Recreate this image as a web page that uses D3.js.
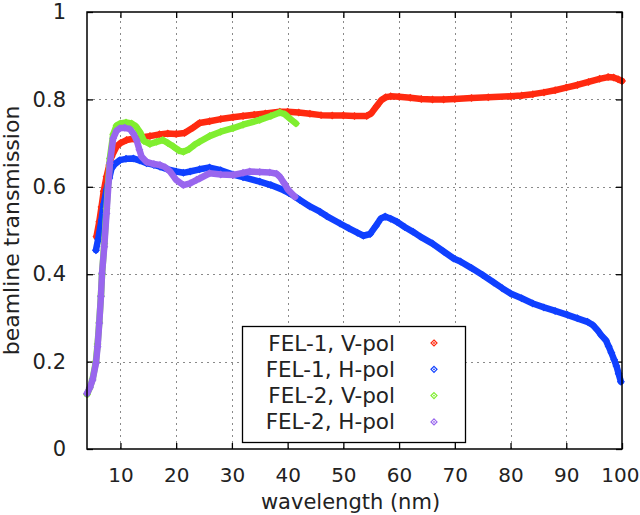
<!DOCTYPE html>
<html><head><meta charset="utf-8">
<script src="https://cdn.jsdelivr.net/npm/d3@7"></script>
<style>body{margin:0;background:#fff}svg{display:block}</style>
</head><body>
<svg id="c" width="640" height="515"></svg>
<script>
const xTicks = [10,20,30,40,50,60,70,80,90,100];
const yTicks = [0,0.2,0.4,0.6,0.8,1];
const seriesNames = ["FEL-1, V-pol","FEL-1, H-pol","FEL-2, V-pol","FEL-2, H-pol"];
const seriesColors = ["#ff2a10","#1040ff","#80ee30","#9966ee"];

const fel1V = [[5.7,0.486],[6.2,0.52],[6.6,0.554],[7.0,0.59],[7.5,0.623],[8.0,0.65],[8.4,0.669],[9.3,0.692],[10,0.70],[11.1,0.707],[12.3,0.71],[13.5,0.713],[15.3,0.716],[17,0.72],[18.5,0.722],[20,0.721],[21.5,0.723],[23,0.735],[24.2,0.746],[26,0.75],[28,0.755],[30.2,0.759],[32,0.762],[34,0.765],[36,0.768],[38.6,0.772],[40,0.772],[42,0.77],[44,0.767],[46,0.764],[48,0.763],[50,0.763],[52,0.762],[54.2,0.762],[55,0.768],[56,0.785],[56.8,0.798],[57.6,0.805],[58.5,0.807],[60,0.806],[62,0.804],[64,0.801],[66,0.80],[68,0.80],[70,0.801],[73,0.803],[76,0.805],[80,0.807],[82,0.809],[84,0.812],[86,0.816],[88,0.821],[90,0.827],[92,0.833],[94,0.84],[96,0.847],[97.5,0.851],[98.5,0.85],[99.3,0.846],[100,0.842]];

const fel1H = [[5.6,0.455],[6.0,0.48],[6.6,0.524],[7.0,0.56],[7.5,0.593],[8.0,0.62],[8.4,0.642],[9.0,0.652],[9.9,0.661],[11,0.664],[12.3,0.665],[13.5,0.66],[14.7,0.654],[16,0.65],[17.1,0.646],[18.5,0.64],[20,0.635],[21.3,0.632],[22.5,0.635],[24.2,0.640],[26,0.644],[28,0.638],[30.2,0.628],[32,0.622],[35,0.612],[37,0.604],[39.2,0.593],[41,0.58],[42.2,0.570],[44,0.555],[45.8,0.543],[47,0.533],[49.4,0.516],[51,0.505],[52.5,0.495],[53.6,0.488],[54.8,0.492],[55.8,0.51],[56.7,0.527],[57.5,0.532],[58.5,0.527],[59.6,0.520],[61,0.508],[62.5,0.497],[63.8,0.486],[66,0.47],[68,0.452],[69.8,0.436],[71,0.429],[73,0.414],[75,0.398],[77,0.381],[78.5,0.368],[80,0.356],[82,0.345],[84,0.333],[86,0.324],[88,0.316],[90.2,0.307],[92,0.299],[93.8,0.291],[94.8,0.283],[95.6,0.272],[96.3,0.26],[97.1,0.249],[97.6,0.235],[98.1,0.22],[98.6,0.204],[99,0.19],[99.4,0.172],[99.8,0.154]];

const fel2V = [[4,0.125],[4.5,0.14],[5,0.16],[5.6,0.2],[5.9,0.24],[6.2,0.29],[6.5,0.35],[6.7,0.40],[7.1,0.47],[7.5,0.55],[8.1,0.665],[8.7,0.72],[9.3,0.74],[10,0.745],[11,0.747],[12,0.745],[12.8,0.738],[13.5,0.725],[14.2,0.705],[15.3,0.698],[16.5,0.703],[17.6,0.707],[18.5,0.70],[19.5,0.692],[20.5,0.683],[21.3,0.680],[22.3,0.686],[23.3,0.696],[24.2,0.703],[26,0.716],[28,0.726],[30.2,0.734],[32,0.742],[35,0.753],[37,0.762],[38.6,0.77],[39.5,0.766],[40.5,0.755],[41.5,0.745]];

const fel2H = [[4,0.127],[4.5,0.14],[5,0.158],[5.6,0.196],[5.9,0.234],[6.2,0.288],[6.5,0.349],[6.7,0.402],[7.1,0.463],[7.5,0.539],[8.1,0.654],[8.7,0.711],[9.3,0.728],[9.9,0.734],[10.8,0.735],[11.7,0.732],[12.3,0.722],[12.9,0.707],[13.4,0.685],[13.8,0.669],[14.7,0.657],[16,0.652],[17.1,0.650],[18,0.645],[18.9,0.635],[20,0.616],[21.3,0.604],[22.5,0.608],[23.7,0.616],[24.2,0.619],[26,0.631],[28,0.628],[30.2,0.627],[32,0.632],[33.2,0.635],[35,0.634],[36.8,0.633],[38,0.630],[38.6,0.623],[39.4,0.608],[40.1,0.593],[41.3,0.577]];

const allSeries = [fel1V, fel1H, fel2V, fel2H];

const svg = d3.select("#c");
const L = 87, R = 622, T = 12, B = 449;
const x = d3.scaleLinear().domain([4,100]).range([L,R]);
const y = d3.scaleLinear().domain([0,1]).range([B,T]);
const font = "DejaVu Sans, sans-serif";
const fs = 21;

// grid
const grid = svg.append("g").attr("stroke","#8a8a8a").attr("stroke-width",1).attr("stroke-dasharray","2,4");
grid.selectAll("line.gx").data(xTicks.filter(d=>d<100)).join("line")
  .attr("x1",d=>Math.round(x(d))+0.5).attr("x2",d=>Math.round(x(d))+0.5).attr("y1",B).attr("y2",T);
grid.selectAll("line.gy").data(yTicks.filter(d=>d>0&&d<1)).join("line")
  .attr("y1",d=>Math.round(y(d))+0.5).attr("y2",d=>Math.round(y(d))+0.5).attr("x1",L).attr("x2",R);

// axes
const fmt = d => d===0 ? "0" : (d===1 ? "1" : d3.format(".1f")(d));
const axB = d3.axisBottom(x).tickValues(xTicks).tickSize(-6).tickPadding(19).tickFormat(d3.format("d"));
const axT = d3.axisTop(x).tickValues(xTicks).tickSize(-6).tickFormat("");
const axLf = d3.axisLeft(y).tickValues(yTicks).tickSize(-6).tickPadding(21).tickFormat(fmt);
const axRt = d3.axisRight(y).tickValues(yTicks).tickSize(-6).tickFormat("");
function styleAxis(g, size){
  g.select(".domain").remove();
  g.selectAll(".tick line").attr("stroke","#000").attr("stroke-width",1.3);
  g.selectAll("text").attr("font-family",font).attr("font-size",size||fs).attr("fill","#222");
}
const gB = svg.append("g").attr("transform",`translate(0,${B})`).call(axB).call(styleAxis, 20);
// keep the last label inside the page edge
gB.selectAll(".tick text").filter(d=>d===100).attr("text-anchor","end").attr("x",639-R);
svg.append("g").attr("transform",`translate(0,${T})`).call(axT).call(styleAxis);
svg.append("g").attr("transform",`translate(${L},0)`).call(axLf).call(styleAxis);
svg.append("g").attr("transform",`translate(${R},0)`).call(axRt).call(styleAxis);

// series
const line = d3.line().x(d=>x(d[0])).y(d=>y(d[1])).curve(d3.curveLinear);
const diamond = (cx,cy,s) => `M${cx},${cy-s}L${cx+s},${cy}L${cx},${cy+s}L${cx-s},${cy}Z`;
allSeries.forEach((s,i)=>{
  const g = svg.append("g");
  g.append("path").datum(s).attr("d",line).attr("fill","none")
    .attr("stroke",seriesColors[i]).attr("stroke-width",6.5).attr("stroke-linejoin","round").attr("stroke-linecap","round");
  g.selectAll("path.m").data(s).join("path").attr("class","m")
    .attr("d",d=>diamond(x(d[0]),y(d[1]),3)).attr("fill","none")
    .attr("stroke",seriesColors[i]).attr("stroke-width",1.4);
});

// frame
svg.append("rect").attr("x",L).attr("y",T).attr("width",R-L).attr("height",B-T)
  .attr("fill","none").attr("stroke","#000").attr("stroke-width",1.5);

// legend
const lg = svg.append("g");
lg.append("rect").attr("x",242.5).attr("y",326.5).attr("width",223).attr("height",116)
  .attr("fill","#fff").attr("stroke","#000").attr("stroke-width",1.3);
seriesNames.forEach((n,i)=>{
  const cy = 343 + i*26.3;
  lg.append("text").attr("x",395).attr("y",cy).attr("dy","0.35em").attr("text-anchor","end")
    .attr("font-family",font).attr("font-size",21.5).attr("fill","#222").text(n);
  lg.append("path").attr("d",diamond(434,cy,3)).attr("fill","none").attr("stroke",seriesColors[i]).attr("stroke-width",1.2);
  lg.append("circle").attr("cx",434).attr("cy",cy).attr("r",0.9).attr("fill",seriesColors[i]);
});

// titles
svg.append("text").attr("x",(L+R)/2 - 4).attr("y",508.5).attr("text-anchor","middle")
  .attr("font-family",font).attr("font-size",21).attr("fill","#222").text("wavelength (nm)");
svg.append("text").attr("transform",`translate(19,${(T+B)/2}) rotate(-90)`).attr("text-anchor","middle")
  .attr("font-family",font).attr("font-size",22).attr("fill","#222").text("beamline transmission");
</script>
</body></html>
